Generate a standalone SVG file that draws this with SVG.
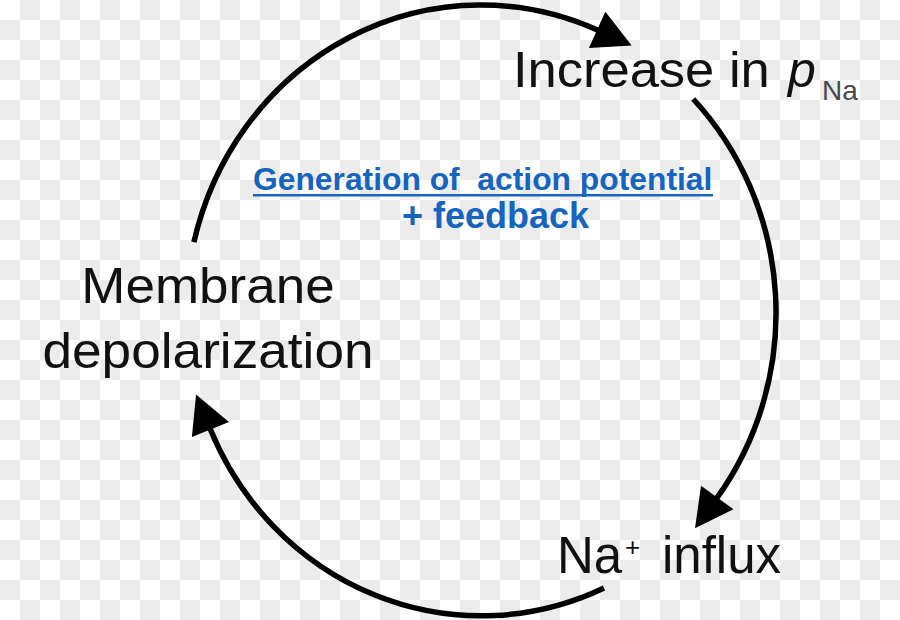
<svg xmlns="http://www.w3.org/2000/svg" width="900" height="620" viewBox="0 0 900 620">
  <style>
    .lbl { font-family: "Liberation Sans", Arial, sans-serif; fill: #111; }
    .sub { font-family: "Liberation Sans", Arial, sans-serif; fill: #4a4a4a; }
    .blue { font-family: "Liberation Sans", Arial, sans-serif; font-weight: bold; fill: #1565C0; }
    .arc { fill: none; stroke: #000; stroke-width: 5.5; stroke-linecap: butt; }
  </style>
  <defs>
    <pattern id="checker" width="40" height="40" patternUnits="userSpaceOnUse">
      <rect width="40" height="40" fill="#ffffff"/>
      <rect x="20" y="0" width="20" height="20" fill="#ececec"/>
      <rect x="0" y="20" width="20" height="20" fill="#ececec"/>
    </pattern>
    <marker id="arrow" markerUnits="userSpaceOnUse" markerWidth="40" markerHeight="40" viewBox="0 0 36 38" refX="1" refY="19" orient="auto">
      <path d="M0,0 L36,19 L0,38 Z" fill="#000"/>
    </marker>
  </defs>
  <rect width="900" height="620" fill="url(#checker)"/>

  <g id="connectors">
    <path class="arc" d="M193.9,242.2 A295,308 0 0 1 598.1,30.3" marker-end="url(#arrow)"/>
    <path class="arc" d="M693.2,99 A295,308 0 0 1 716.6,498.4" marker-end="url(#arrow)"/>
    <path class="arc" d="M604,588 A295,308 0 0 1 210,428.5" marker-end="url(#arrow)"/>
  </g>

  <g id="node-increase">
    <text class="lbl" transform="translate(513,87) scale(1.05,1)" font-size="50">Increase in</text>
    <text class="lbl" x="788" y="87" font-size="50" font-style="italic">p</text>
    <text class="sub" x="822" y="100" font-size="28">Na</text>
  </g>

  <g id="node-influx">
    <text class="lbl" x="557" y="573" font-size="51">Na</text>
    <text class="lbl" x="625" y="556" font-size="26">+</text>
    <text class="lbl" x="662" y="573" font-size="51">influx</text>
  </g>

  <g id="node-depolarization">
    <text class="lbl" transform="translate(208,303) scale(1.06,1)" font-size="50" text-anchor="middle">Membrane</text>
    <text class="lbl" transform="translate(208,368) scale(1.064,1)" font-size="50" text-anchor="middle">depolarization</text>
  </g>

  <g id="title">
    <text class="blue" x="253" y="190" font-size="31.8" xml:space="preserve">Generation of  action potential</text>
    <rect x="253" y="194" width="460" height="2.5" fill="#1565C0"/>
    <text class="blue" x="402" y="228" font-size="36">+ feedback</text>
  </g>
</svg>
